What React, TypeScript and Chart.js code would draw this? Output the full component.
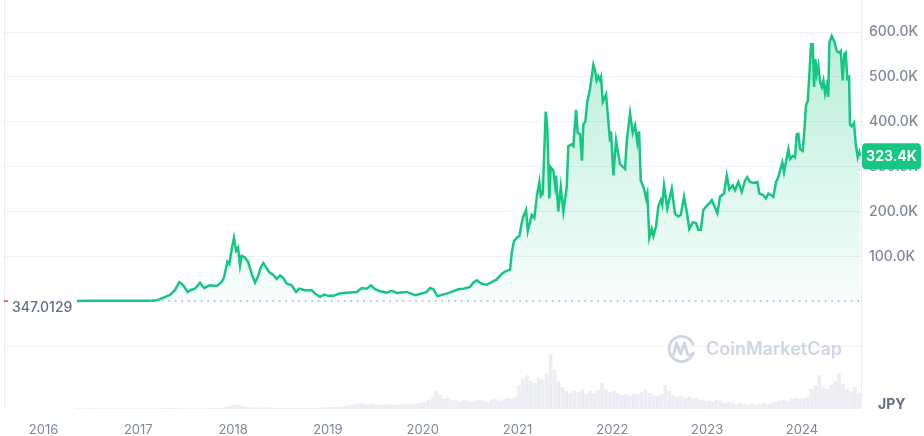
import React, { useEffect, useRef } from 'react';
import { Chart, registerables } from 'chart.js';

Chart.register(...registerables);

// ---------- data ----------
const yearTicks = [2016, 2017, 2018, 2019, 2020, 2021, 2022, 2023, 2024];
const priceTicks = [-100000, 100000, 200000, 300000, 400000, 500000, 600000];
const startPrice = 347.0129; // JPY, opening price of the period
const currency = 'JPY';

// decimal-year dates of the price samples
const dates = [
  2016.353, 2016.49, 2016.65, 2016.81, 2016.965,
  2017.071, 2017.145, 2017.197, 2017.229, 2017.334, 2017.387, 2017.432, 2017.472, 2017.521, 2017.553, 2017.598, 2017.651, 2017.693, 2017.756, 2017.827, 2017.88, 2017.904, 2017.939, 2017.96, 2017.985,
  2018.009, 2018.031, 2018.052, 2018.073, 2018.091, 2018.126, 2018.16, 2018.196, 2018.231, 2018.266, 2018.291, 2018.319, 2018.347, 2018.382, 2018.424, 2018.46, 2018.495, 2018.53, 2018.565, 2018.618, 2018.664, 2018.698, 2018.758, 2018.829, 2018.864, 2018.917, 2018.959,
  2019.004, 2019.057, 2019.12, 2019.233, 2019.304, 2019.357, 2019.409, 2019.455, 2019.497, 2019.55, 2019.62, 2019.673, 2019.726, 2019.831, 2019.919, 2019.989,
  2020.042, 2020.077, 2020.112, 2020.154, 2020.217, 2020.306, 2020.376, 2020.428, 2020.499, 2020.534, 2020.57, 2020.622, 2020.675, 2020.728, 2020.781, 2020.833, 2020.868, 2020.921, 2020.939, 2020.963, 2020.992,
  2021.019, 2021.044, 2021.061, 2021.09, 2021.108, 2021.15, 2021.177, 2021.203, 2021.23, 2021.245, 2021.266, 2021.297, 2021.314, 2021.335, 2021.35, 2021.378, 2021.396, 2021.406, 2021.43, 2021.456, 2021.483, 2021.519, 2021.536, 2021.572, 2021.589, 2021.617, 2021.635, 2021.659, 2021.68, 2021.694, 2021.715, 2021.736, 2021.765, 2021.8, 2021.818, 2021.835, 2021.852, 2021.87, 2021.881, 2021.899, 2021.934, 2021.958, 2021.976, 2021.986,
  2022.011, 2022.039, 2022.063, 2022.081, 2022.134, 2022.152, 2022.187, 2022.215, 2022.24, 2022.264, 2022.282, 2022.3, 2022.334, 2022.356, 2022.369, 2022.39, 2022.416, 2022.433, 2022.461, 2022.485, 2022.511, 2022.527, 2022.545, 2022.58, 2022.627, 2022.661, 2022.696, 2022.722, 2022.756, 2022.785, 2022.812, 2022.848, 2022.883, 2022.907, 2022.933, 2022.96, 2022.988,
  2023.023, 2023.049, 2023.073, 2023.108, 2023.136, 2023.178, 2023.207, 2023.234, 2023.27, 2023.294, 2023.329, 2023.365, 2023.4, 2023.424, 2023.453, 2023.495, 2023.53, 2023.551, 2023.593, 2023.621, 2023.646, 2023.674, 2023.698, 2023.727, 2023.751, 2023.769, 2023.793, 2023.811, 2023.84, 2023.857, 2023.874, 2023.903, 2023.927, 2023.945, 2023.962, 2023.98,
  2024.008, 2024.025, 2024.043, 2024.061, 2024.078, 2024.096, 2024.114, 2024.128, 2024.141, 2024.156, 2024.173, 2024.191, 2024.209, 2024.226, 2024.244, 2024.262, 2024.278, 2024.289, 2024.314, 2024.339, 2024.367, 2024.394, 2024.409, 2024.43, 2024.447, 2024.462, 2024.479, 2024.497, 2024.507, 2024.525, 2024.549, 2024.568, 2024.589, 2024.606, 2024.613,
];

// price in thousands of JPY
const priceK = [
  0.347, 1.2, 1.3, 1.1, 0.9,
  1.2, 1.5, 2.5, 4.8, 14.3, 25.2, 42.8, 36.2, 20.8, 25.2, 28.1, 41.2, 29.6, 35.5, 34.0, 42.8, 53.7, 88.2, 82.9, 115.8,
  141.4, 112.9, 119.5, 79.4, 101.3, 97.6, 86.6, 61.0, 41.2, 57.5, 75.7, 85.1, 75.7, 64.7, 58.8, 50.0, 57.5, 51.5, 39.0, 35.5, 20.8, 28.1, 24.6, 24.6, 17.1, 9.9, 14.9,
  12.1, 12.1, 17.1, 19.3, 20.8, 29.6, 28.1, 35.5, 26.8, 22.4, 19.3, 23.0, 18.6, 20.8, 13.6, 17.1,
  20.8, 29.6, 26.8, 11.4, 14.9, 20.8, 26.8, 28.1, 31.8, 41.2, 46.5, 39.0, 36.8, 42.8, 48.7, 61.0, 66.2, 70.6, 108.6, 134.2, 141.4,
  145.2, 174.3, 189.0, 203.5, 156.1, 192.5, 185.3, 232.9, 265.8, 234.2, 240.1, 422.8, 386.4, 229.2, 298.7, 291.2, 258.3, 280.3, 200.0, 254.8, 200.0, 254.8, 346.0, 349.8, 346.0, 426.5, 375.4, 373.2, 313.2, 393.6, 400.9, 444.7, 474.1, 526.8, 514.3, 492.3, 501.8, 492.3, 499.6, 444.7, 461.0, 400.9, 355.7, 379.0,
  280.3, 358.6, 327.9, 305.9, 295.0, 357.0, 419.3, 375.4, 392.1, 353.5, 379.0, 269.3, 251.1, 229.2, 240.1, 141.4, 161.2, 145.2, 167.1, 211.0, 225.4, 214.5, 258.3, 207.2, 251.1, 194.7, 189.0, 192.5, 232.9, 200.0, 161.2, 175.9, 174.3, 159.6, 159.6, 203.5, 211.0,
  218.2, 225.4, 214.5, 196.3, 232.9, 240.1, 280.3, 248.9, 258.3, 247.4, 265.8, 243.9, 269.3, 276.8, 265.8, 263.6, 265.8, 240.1, 236.4, 229.2, 240.1, 236.4, 232.9, 265.8, 276.8, 291.2, 309.6, 287.7, 320.6, 338.8, 316.9, 324.1, 320.6, 371.7, 373.2, 338.8,
  335.1, 379.0, 437.5, 446.3, 503.3, 572.8, 572.8, 477.6, 539.9, 507.0, 525.2, 488.6, 477.6, 492.3, 463.2, 481.4, 455.7, 576.3, 591.0, 580.0, 558.1, 554.4, 558.1, 492.3, 550.9, 554.4, 496.0, 499.6, 393.6, 389.9, 397.4, 349.8, 320.6, 331.6, 323.4,
];

// baseline (open price) segment change: red while below, grey afterwards
const baselineDates = [2016.353, 2017.18, 2024.613];

// half-monthly volume (relative, billions JPY)
const volumeStart = 2016.35;
const volumeStepYears = 1 / 24;
const volumes = [
  0.3, 0.4, 0.3, 0.5, 0.6, 0.4, 0.3, 0.3, 0.4, 0.3, 0.2, 0.3, 0.3, 0.2, 0.3, 0.3,
  0.2, 0.2, 0.3, 0.3, 0.4, 0.5, 0.6, 0.8, 0.9, 0.7, 0.6, 0.5, 0.5, 0.6, 0.5, 0.4, 0.5, 0.5, 0.6, 0.7, 0.8, 1.2, 2.5, 3.5,
  4.5, 3.8, 3.2, 2.0, 1.5, 1.2, 1.0, 1.4, 1.8, 1.2, 1.0, 0.9, 0.8, 0.8, 0.7, 0.8, 0.9, 0.8, 0.9, 1.0, 0.9, 1.0, 1.2, 1.4,
  1.6, 1.8, 2.0, 2.2, 2.8, 3.5, 4.2, 5.0, 5.5, 4.8, 4.5, 5.2, 4.0, 3.8, 4.5, 4.2, 3.8, 4.0, 4.6, 5.0, 4.4, 4.8, 5.2, 5.8,
  7, 9, 12, 18, 14, 10, 11, 9, 8, 7, 9, 8, 7, 8, 9, 8, 7, 9, 10, 8, 9, 11, 10, 12,
  24, 30, 34, 28, 26, 32, 30, 36, 55, 40, 28, 22, 18, 16, 19, 17, 20, 15, 18, 16, 19, 26, 20, 17,
  18, 16, 14, 15, 13, 16, 15, 17, 19, 16, 14, 13, 15, 24, 18, 14, 12, 13, 11, 12, 10, 11, 9, 8,
  8, 7, 9, 8, 6, 7, 6, 5, 6, 5, 4, 5, 4, 5, 6, 5, 6, 7, 8, 9, 8, 10, 11, 10,
  10, 12, 20, 24, 34, 22, 20, 24, 28, 36, 25, 20, 18, 22, 16,
];

// ---------- style ----------
const GREEN = '#16c784';
const RED = '#ea3943';
const AXIS_TEXT = '#7d879b';
const GRID = '#eff1f4';
const FONT = 'Inter, "Noto Sans", sans-serif';

const fmtK = (v: number) => (v / 1000).toFixed(1) + 'K';

const overlayPlugin = {
  id: 'overlay',
  beforeDatasetsDraw(chart: any) {
    const { ctx, chartArea } = chart;
    ctx.save();
    // panel borders
    ctx.strokeStyle = '#eceef1';
    ctx.lineWidth = 1;
    ctx.beginPath();
    ctx.moveTo(Math.round(chartArea.left) + 0.5, 0);
    ctx.lineTo(Math.round(chartArea.left) + 0.5, chartArea.bottom);
    ctx.moveTo(Math.round(chartArea.right) + 0.5, 0);
    ctx.lineTo(Math.round(chartArea.right) + 0.5, chartArea.bottom);
    ctx.stroke();

    // watermark
    const wc = '#cfd6e3';
    const cx = 681.5, cy = 349, r = 12.5;
    ctx.strokeStyle = wc;
    ctx.lineWidth = 2.8;
    ctx.lineCap = 'round';
    ctx.lineJoin = 'round';
    ctx.beginPath();
    ctx.arc(cx, cy, r, 0.12 * Math.PI, 1.88 * Math.PI);
    ctx.stroke();
    ctx.beginPath();
    ctx.moveTo(cx - 8, cy + 6);
    ctx.lineTo(cx - 5, cy - 6);
    ctx.lineTo(cx - 1, cy + 5);
    ctx.lineTo(cx + 3, cy - 6);
    ctx.lineTo(cx + 6, cy + 5);
    ctx.quadraticCurveTo(cx + 8, cy + 8, cx + 12, cy + 4);
    ctx.stroke();
    ctx.fillStyle = wc;
    ctx.font = `600 18px ${FONT}`;
    ctx.textAlign = 'left';
    ctx.textBaseline = 'middle';
    ctx.fillText('CoinMarketCap', 706, cy + 1);
    ctx.restore();
  },
  afterDraw(chart: any) {
    const { ctx, chartArea, scales } = chart;
    const y = scales.y;
    ctx.save();
    // start price label + marker
    const by = y.getPixelForValue(startPrice);
    ctx.fillStyle = RED;
    ctx.fillRect(chartArea.left, by - 0.75, 4, 1.5);
    ctx.fillStyle = '#616e85';
    ctx.font = `500 14px ${FONT}`;
    ctx.textAlign = 'left';
    ctx.textBaseline = 'middle';
    ctx.fillText(startPrice.toFixed(4), chartArea.left + 8, by + 7);

    // currency label
    ctx.fillStyle = '#616e85';
    ctx.font = `700 14px ${FONT}`;
    ctx.fillText(currency, 878, 405);

    // last price tag
    const last = priceK[priceK.length - 1] * 1000;
    const ly = y.getPixelForValue(last);
    const x0 = chartArea.right + 1, w = 59, h = 26, rr = 4;
    const y0 = ly - h / 2;
    ctx.fillStyle = GREEN;
    ctx.beginPath();
    ctx.moveTo(x0 + rr, y0);
    ctx.lineTo(x0 + w - rr, y0);
    ctx.quadraticCurveTo(x0 + w, y0, x0 + w, y0 + rr);
    ctx.lineTo(x0 + w, y0 + h - rr);
    ctx.quadraticCurveTo(x0 + w, y0 + h, x0 + w - rr, y0 + h);
    ctx.lineTo(x0 + rr, y0 + h);
    ctx.quadraticCurveTo(x0, y0 + h, x0, y0 + h - rr);
    ctx.lineTo(x0, y0 + rr);
    ctx.quadraticCurveTo(x0, y0, x0 + rr, y0);
    ctx.fill();
    ctx.fillStyle = '#ffffff';
    ctx.font = `700 14px ${FONT}`;
    ctx.textAlign = 'center';
    ctx.fillText(fmtK(last), x0 + w / 2, ly + 0.5);
    ctx.restore();
  },
};

export default function App() {
  const canvasRef = useRef<HTMLCanvasElement>(null);

  useEffect(() => {
    document.body.style.margin = '0';
    const canvas = canvasRef.current;
    if (!canvas) return;

    const priceData = dates.map((d, i) => ({ x: d, y: priceK[i] * 1000 }));
    const baseData = baselineDates.map((d) => ({ x: d, y: startPrice }));
    const volData = volumes.map((v, i) => ({ x: volumeStart + i * volumeStepYears, y: v }));

    const chart = new Chart(canvas, {
      type: 'line',
      data: {
        datasets: [
          {
            type: 'line',
            label: 'Price',
            data: priceData,
            borderColor: GREEN,
            borderWidth: 2.5,
            pointRadius: 0,
            tension: 0,
            fill: 'origin',
            backgroundColor: (c: any) => {
              const ch = c.chart;
              if (!ch.chartArea) return 'rgba(22,199,132,0.1)';
              const ys = ch.scales.y;
              const g = ch.ctx.createLinearGradient(0, ys.getPixelForValue(600000), 0, ys.getPixelForValue(0));
              g.addColorStop(0, 'rgba(22,199,132,0.30)');
              g.addColorStop(1, 'rgba(22,199,132,0.03)');
              return g;
            },
            yAxisID: 'y',
            order: 1,
          },
          {
            type: 'line',
            label: 'Open',
            data: baseData,
            borderWidth: 1.5,
            pointRadius: 0,
            fill: false,
            borderColor: '#a6adbd',
            segment: {
              borderColor: (s: any) => (s.p0DataIndex === 0 ? RED : '#a6adbd'),
              borderDash: (s: any) => (s.p0DataIndex === 0 ? [3, 2] : [1.5, 5]),
            },
            yAxisID: 'y',
            order: 2,
          },
          {
            type: 'bar',
            label: 'Volume',
            data: volData,
            backgroundColor: 'rgba(205,211,223,0.38)',
            barThickness: 3,
            yAxisID: 'y2',
            order: 3,
          },
        ] as any,
      },
      options: {
        animation: false,
        responsive: false,
        devicePixelRatio: 1,
        parsing: false as any,
        layout: { padding: { left: 4, top: 10, right: 0, bottom: 0 } },
        plugins: { legend: { display: false }, tooltip: { enabled: false } },
        scales: {
          x: {
            type: 'linear',
            offset: false,
            min: 2015.583,
            max: 2024.623,
            grid: { display: false, drawTicks: false, offset: false },
            border: { display: false },
            afterBuildTicks: (s: any) => {
              s.ticks = yearTicks.map((v) => ({ value: v }));
            },
            afterFit: (s: any) => {
              s.height = 27;
            },
            ticks: {
              autoSkip: false,
              maxRotation: 0,
              padding: 13,
              color: AXIS_TEXT,
              font: { family: FONT, size: 13 },
              callback: (v: any) => String(v),
            },
          },
          y: {
            position: 'right',
            min: -240130,
            max: 634870,
            grid: { color: GRID, drawTicks: false },
            border: { display: false },
            afterBuildTicks: (s: any) => {
              s.ticks = priceTicks.map((v) => ({ value: v }));
            },
            afterFit: (s: any) => {
              s.width = 63;
            },
            ticks: {
              padding: 8,
              color: AXIS_TEXT,
              font: { family: FONT, size: 14, weight: '500' },
              callback: (v: any) => (v > 0 ? fmtK(v) : ''),
            },
          },
          y2: {
            display: false,
            min: 0,
            max: 399,
          },
        },
      },
      plugins: [overlayPlugin],
    } as any);

    return () => chart.destroy();
  }, []);

  return (
    <div style={{ width: 924, height: 436, position: 'relative', background: '#ffffff' }}>
      <canvas ref={canvasRef} width={924} height={436} style={{ display: 'block', width: 924, height: 436 }} />
    </div>
  );
}
